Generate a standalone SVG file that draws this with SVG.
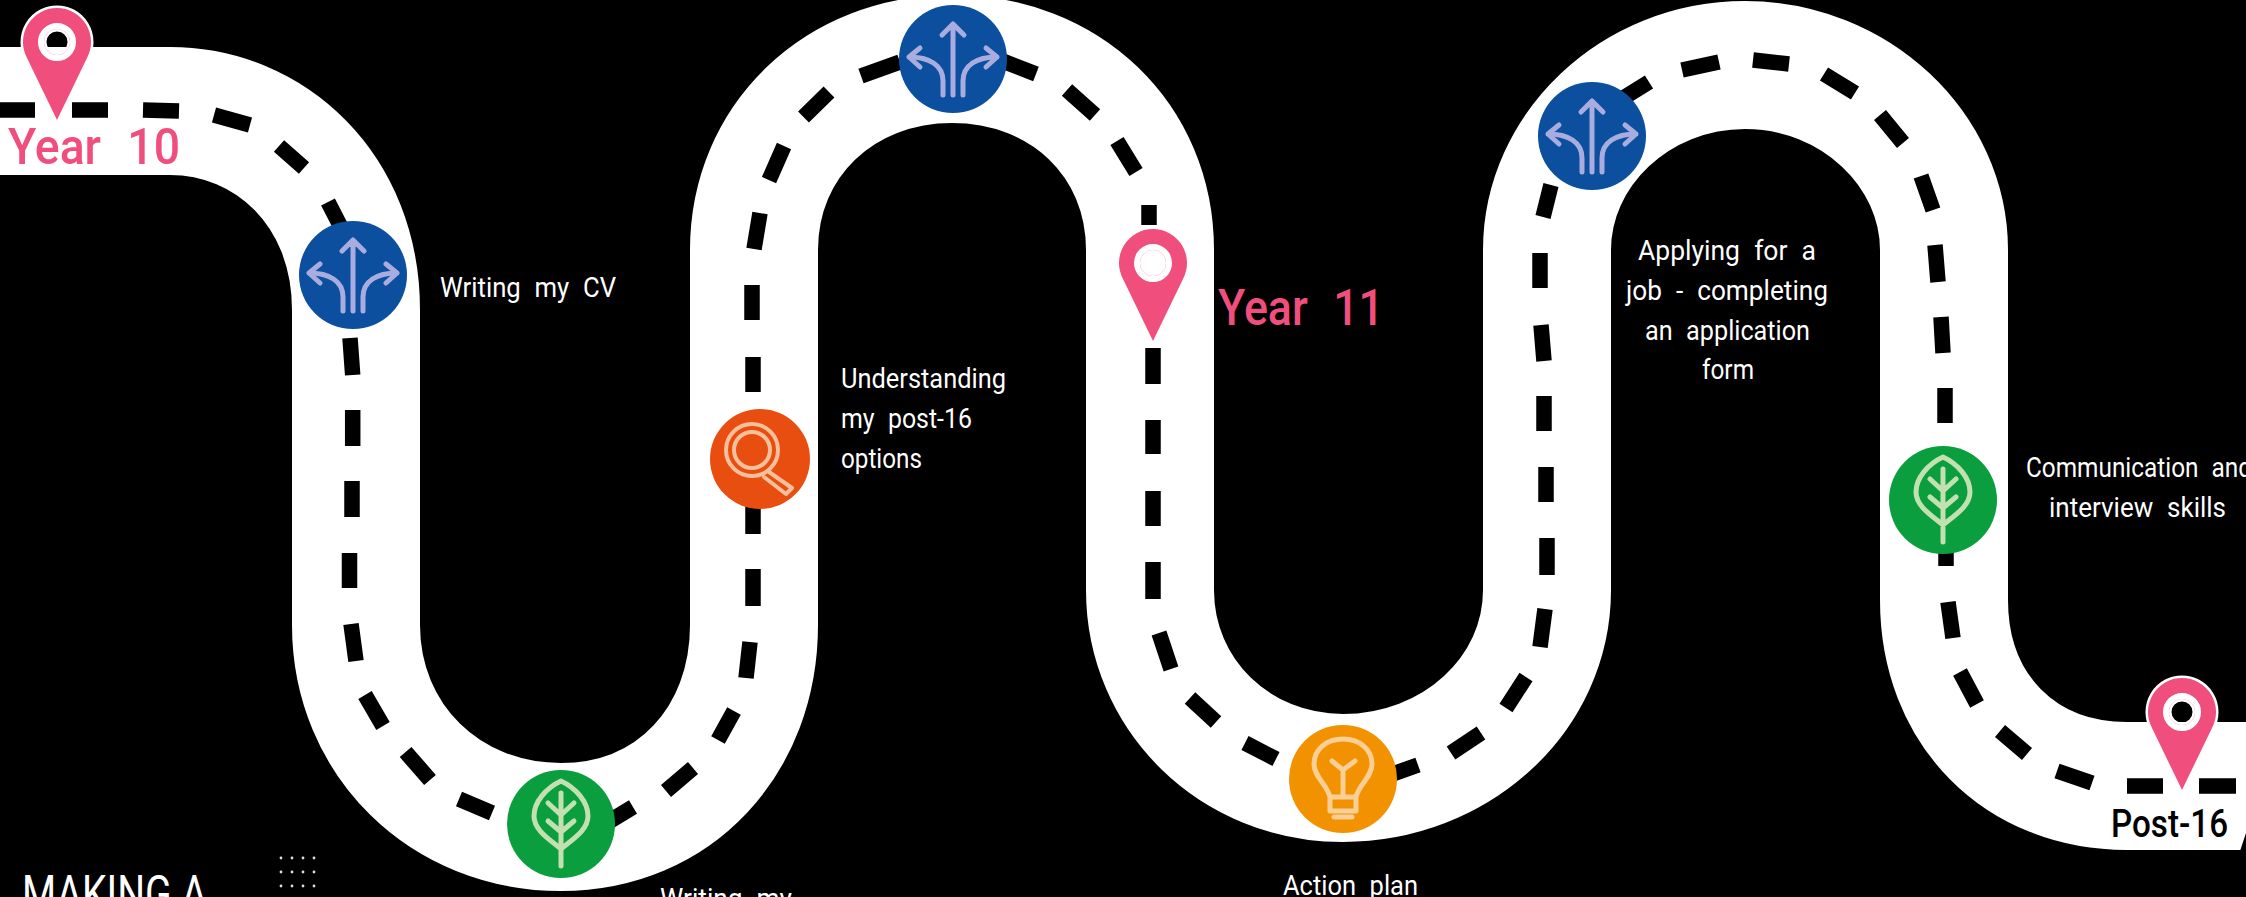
<svg xmlns="http://www.w3.org/2000/svg" width="2246" height="897" viewBox="0 0 2246 897">
<defs>
<style>
.road{fill:none;stroke:#fff;stroke-width:128}
.dash{fill:none;stroke:#000;stroke-width:15.5}
.t{fill:#fff;font-family:"Roboto","Liberation Sans",sans-serif;font-size:28px;font-weight:400;word-spacing:8px}
.y{fill:#f04e7c;font-family:"Roboto","Liberation Sans",sans-serif;font-size:50px;font-weight:500;word-spacing:16px}
.ic{fill:none;stroke-width:5;stroke-linecap:round;stroke-linejoin:round}
.pin{fill:#f04e7c;fill-rule:evenodd;stroke:#fff;stroke-width:5;paint-order:stroke}
.ring{fill:none;stroke:#fff;stroke-width:6}
</style>
<g id="arrows"><circle r="54" fill="#0b4f9e"/><g class="ic" stroke="#a8acdf"><path d="M0,36V-35M-11,-24L0,-35L11,-24M-10,36V22C-10,6-24,-2-44,-2M-33,-11L-44,-2L-33,8M10,36V22C10,6 24,-2 44,-2M33,-11L44,-2L33,8"/></g></g>
<g id="leaf"><circle r="54" fill="#0a9e3e"/><g class="ic" stroke="#c3e0b0"><path d="M0,-43C15,-36 27,-22 27,-8C27,6 12,15 0,25C-12,15-27,6-27,-8C-27,-22-15,-36 0,-43ZM0,42V-31M-13,-21L0,-9L13,-21M-13,-3L0,8L13,-3"/></g></g>
<path id="pinshape" class="pin" d="M0,78L-30,16A34,34 0 1 1 30,16ZM0,-13A13,13 0 1 0 0,13A13,13 0 1 0 0,-13Z"/>
</defs>
<rect width="2246" height="897" fill="#000"/>
<g id="connectors">
<path id="roadbody" class="road" d="M-10,111L170,111C270,111 356,190 356,310L356,625C356,740 445,827 561,827C675,827 754,740 754,625L754,250C754,140 840,59 952,59C1065,59 1150,140 1150,250L1150,590C1150,695 1235,778 1343,778C1455,778 1547,695 1547,590L1547,250C1547,150 1635,65 1745,65C1855,65 1944,150 1944,250L1944,600C1944,710 2020,786 2127,786L2260,786"/>
<path id="roaddash" class="dash" d="M0,110H35M72,110H108M143,110L179,111M214,115L250,125M279,146L304,168M328,202L345,235
M350,338L352.7,375M352.7,410V446M352,481V517M349.5,553V588M351,624L356,661M365,695L383,726M405.6,752L430,780M459,799L492,813
M600,827L633,807M666,791L693,768M718,740L734,711M746,678L750,642M753,606V569M753,534V500
M753,392V357M752,320V285M754,249L760,213M769,180L784,146M803.5,117L829,92M861,76L900,62
M1000,60L1036,74M1067,90L1095,115M1117,141L1136,172M1149,205V225
M1153,348V384M1153,420V454M1153,491V526M1153,562V599M1159,633L1171,669M1190,698L1216,722M1245,743L1276,759
M1390,775L1418,765M1451,753L1481,733M1506,708L1526,677M1540,647L1545,609M1547,575V538M1546,502V467M1544,431V396M1544,361L1541,325M1540,288V253M1543,217L1551,185
M1620,100L1649,82M1682,70L1719,62M1753,60L1789,64M1824,74L1855,93M1880,115L1903,143M1921,176L1933,210M1935,245L1938,282M1941,317L1943,353M1945,388V423
M1946,540V566M1948,602L1953,638M1960,672L1977,704M2000,731L2027,754M2057,771L2092,783M2127,786H2163M2199,786H2236"/>
<polygon points="2240,851 2246,833 2246,860 2240,860" fill="#000"/>
</g>
<g id="pin-year10"><use href="#pinshape" x="57" y="42"/><circle class="ring" cx="57" cy="42" r="16"/><text class="y" x="8" y="164" textLength="172" lengthAdjust="spacingAndGlyphs">Year 10</text></g>
<g id="pin-year11"><use href="#pinshape" x="1153" y="263"/><circle class="ring" cx="1153" cy="263" r="16"/><text class="y" x="1218" y="325" textLength="166" lengthAdjust="spacingAndGlyphs">Year 11</text></g>
<g id="pin-post16"><use href="#pinshape" x="2182" y="712"/><circle class="ring" cx="2182" cy="712" r="16"/><text class="y" x="2111" y="837" textLength="117" lengthAdjust="spacingAndGlyphs" style="fill:#000;font-size:38px;word-spacing:0">Post-16</text></g>
<g id="node-cv"><use href="#arrows" x="353" y="275"/><text class="t" x="440" y="297" textLength="176" lengthAdjust="spacingAndGlyphs">Writing my CV</text></g>
<g id="node-statement"><use href="#leaf" x="561" y="824"/><text class="t" x="660" y="908" textLength="132" lengthAdjust="spacingAndGlyphs">Writing my</text></g>
<g id="node-options"><circle cx="760" cy="459" r="50" fill="#e84e0f"/><g class="ic" stroke="#f7c09c" style="stroke-width:4"><circle cx="752" cy="450" r="26"/><circle cx="752" cy="450" r="18"/><path d="M769,472L792,488L786,494L764,477"/></g><text class="t" x="841" y="388" textLength="165" lengthAdjust="spacingAndGlyphs">Understanding</text><text class="t" x="841" y="428" textLength="131" lengthAdjust="spacingAndGlyphs">my post-16</text><text class="t" x="841" y="468" textLength="81" lengthAdjust="spacingAndGlyphs">options</text></g>
<g id="node-top"><use href="#arrows" x="953" y="59"/></g>
<g id="node-action"><circle cx="1343" cy="779" r="54" fill="#f39200"/><g class="ic" stroke="#f9cf95"><path d="M-13,18C-16,5-29,-2-29,-15C-29,-30-16,-40 0,-40C16,-40 29,-30 29,-15C29,-2 16,5 13,18ZM-13,18V32H13V18M0,18V-9M-11,-18L0,-9L12,-18M-9,38H9" transform="translate(1343,779)"/></g><text class="t" x="1283" y="895" textLength="135" lengthAdjust="spacingAndGlyphs">Action plan</text></g>
<g id="node-apply"><use href="#arrows" x="1592" y="136"/><text class="t" x="1638" y="260" textLength="178" lengthAdjust="spacingAndGlyphs">Applying for a</text><text class="t" x="1626" y="300" textLength="202" lengthAdjust="spacingAndGlyphs">job - completing</text><text class="t" x="1645" y="340" textLength="165" lengthAdjust="spacingAndGlyphs">an application</text><text class="t" x="1702" y="379" textLength="52" lengthAdjust="spacingAndGlyphs">form</text></g>
<g id="node-interview"><use href="#leaf" x="1943" y="500"/><text class="t" x="2026" y="477" textLength="226" lengthAdjust="spacingAndGlyphs">Communication and</text><text class="t" x="2049" y="517" textLength="177" lengthAdjust="spacingAndGlyphs">interview skills</text></g>
<g id="title"><text x="22" y="911" textLength="185" lengthAdjust="spacingAndGlyphs" style="fill:#fff;font-family:'Roboto',sans-serif;font-weight:400;font-size:50px">MAKING A</text></g>
<g id="dots" fill="#ddd"><circle cx="281" cy="858" r="1.4"/><circle cx="292" cy="858" r="1.4"/><circle cx="303" cy="858" r="1.4"/><circle cx="314" cy="858" r="1.4"/><circle cx="281" cy="872" r="1.4"/><circle cx="292" cy="872" r="1.4"/><circle cx="303" cy="872" r="1.4"/><circle cx="314" cy="872" r="1.4"/><circle cx="281" cy="886" r="1.4"/><circle cx="292" cy="886" r="1.4"/><circle cx="303" cy="886" r="1.4"/><circle cx="314" cy="886" r="1.4"/></g>
</svg>
